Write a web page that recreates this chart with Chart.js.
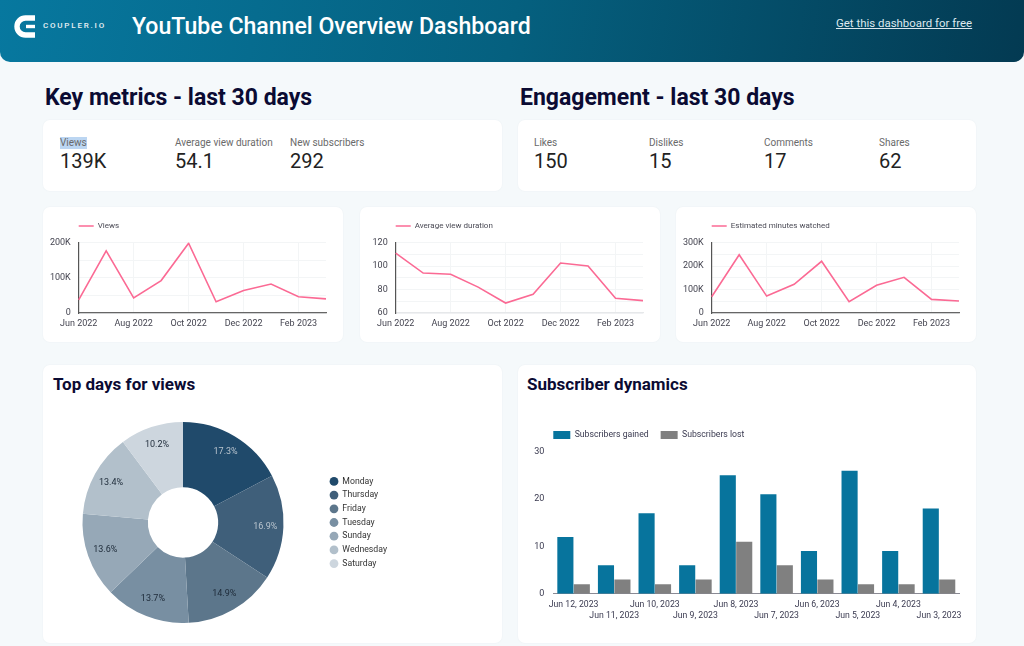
<!DOCTYPE html>
<html>
<head>
<meta charset="utf-8">
<script src="https://cdn.jsdelivr.net/npm/chart.js@4"></script>
<style>
  html, body { margin: 0; padding: 0; }
  body { width: 1024px; height: 646px; overflow: hidden; position: relative; background: #f5f9fb; font-family: Roboto, sans-serif; }
  .abs { position: absolute; white-space: nowrap; }
  #header { left: 0; top: 0; width: 1024px; height: 62px; border-radius: 0 0 10px 10px; background: linear-gradient(100deg, #07789f 0%, #05607f 50%, #033a52 100%); }
  .card { position: absolute; background: #fff; border-radius: 7px; box-shadow: 0 0 2px rgba(30, 50, 70, 0.05); }
  .heading { font-size: 23px; font-weight: 700; color: #0b0b33; line-height: 28px; }
  .sub { font-size: 17px; font-weight: 700; color: #0b0b33; line-height: 20px; }
  .mlabel { font-size: 10px; color: #6a6a6a; line-height: 12px; }
  .mvalue { font-size: 20px; color: #222; line-height: 24px; }
  canvas { position: absolute; }
</style>
</head>
<body>
<div class="abs" id="header"></div>
<svg class="abs" style="left:13px;top:13px" width="26" height="27" viewBox="0 0 26 27">
  <path d="M22 5 H12.5 A8.5 8.5 0 0 0 12.5 22 H22" fill="none" stroke="#fff" stroke-width="5.4"/>
  <rect x="13" y="11.8" width="9" height="3.4" fill="#fff"/>
</svg>
<div class="abs" style="left:43px;top:20px;font-size:8px;font-weight:500;letter-spacing:1.8px;color:#e8f0f4;line-height:12px">COUPLER.IO</div>
<div class="abs" style="left:132px;top:13px;font-size:23.1px;font-weight:500;color:#fff;line-height:28px">YouTube Channel Overview Dashboard</div>
<div class="abs" style="left:836px;top:16px;font-size:11.45px;color:#dde8ee;line-height:15px;text-decoration:underline">Get this dashboard for free</div>

<div class="abs heading" style="left:45px;top:84px">Key metrics - last 30 days</div>
<div class="abs heading" style="left:520px;top:84px">Engagement - last 30 days</div>

<div class="card" style="left:43px;top:120px;width:459px;height:71px"></div>
<div class="card" style="left:518px;top:120px;width:458px;height:71px"></div>

<div class="abs mlabel" style="left:60px;top:137px;background:#bcd6f2">Views</div>
<div class="abs mvalue" style="left:60px;top:149px">139K</div>
<div class="abs mlabel" style="left:175px;top:137px">Average view duration</div>
<div class="abs mvalue" style="left:175px;top:149px">54.1</div>
<div class="abs mlabel" style="left:290px;top:137px">New subscribers</div>
<div class="abs mvalue" style="left:290px;top:149px">292</div>

<div class="abs mlabel" style="left:534px;top:137px">Likes</div>
<div class="abs mvalue" style="left:534px;top:149px">150</div>
<div class="abs mlabel" style="left:649px;top:137px">Dislikes</div>
<div class="abs mvalue" style="left:649px;top:149px">15</div>
<div class="abs mlabel" style="left:764px;top:137px">Comments</div>
<div class="abs mvalue" style="left:764px;top:149px">17</div>
<div class="abs mlabel" style="left:879px;top:137px">Shares</div>
<div class="abs mvalue" style="left:879px;top:149px">62</div>

<div class="card" style="left:43px;top:207px;width:300px;height:135px"><canvas id="viewsChart"></canvas></div>
<div class="card" style="left:360px;top:207px;width:300px;height:135px"><canvas id="durationChart"></canvas></div>
<div class="card" style="left:676px;top:207px;width:300px;height:135px"><canvas id="minutesChart"></canvas></div>

<div class="card" style="left:43px;top:365px;width:459px;height:278px"></div>
<div class="card" style="left:518px;top:365px;width:458px;height:278px"></div>
<div class="abs sub" style="left:53px;top:374px">Top days for views</div>
<div class="abs sub" style="left:527px;top:374px">Subscriber dynamics</div>
<canvas id="daysChart" style="left:43px;top:421.5px"></canvas>
<canvas id="subsChart" style="left:518px;top:421px"></canvas>

<script>
const months = ['Jun 2022', 'Jul 2022', 'Aug 2022', 'Sep 2022', 'Oct 2022', 'Nov 2022', 'Dec 2022', 'Jan 2023', 'Feb 2023', 'Mar 2023'];
const viewsValues = [37000, 176000, 43000, 92000, 198000, 32000, 64000, 82000, 46000, 40000];
const durationValues = [111, 94, 93, 82, 68.5, 76, 102.5, 100, 72.5, 70.5];
const minutesValues = [69000, 248000, 72000, 122000, 220000, 48000, 118000, 152000, 58000, 51000];

const dayLabels = ['Monday', 'Thursday', 'Friday', 'Tuesday', 'Sunday', 'Wednesday', 'Saturday'];
const dayShares = [17.3, 16.9, 14.9, 13.7, 13.6, 13.4, 10.2];
const dayColors = ['#204a6b', '#3f5f7a', '#5c768b', '#788fa2', '#96a8b7', '#b2c0cb', '#cdd6de'];

const subDates = ['Jun 12, 2023', 'Jun 11, 2023', 'Jun 10, 2023', 'Jun 9, 2023', 'Jun 8, 2023', 'Jun 7, 2023', 'Jun 6, 2023', 'Jun 5, 2023', 'Jun 4, 2023', 'Jun 3, 2023'];
const subsGained = [12, 6, 17, 6, 25, 21, 9, 26, 9, 18];
const subsLost = [2, 3, 2, 3, 11, 6, 3, 2, 2, 3];

const PINK = '#fb6a94';
const TICK = '#444450';

function sizeCanvas(id, w, h) {
    let el = document.getElementById(id);
    el.style.width = w + 'px';
    el.style.height = h + 'px';
    el.width = w;
    el.height = h;
    return el;
}

// moves the legend start, the library has no option for it
function legendAt(x, up) {
    return {
        id: 'legendAt',
        afterLayout(chart) {
            chart.legend.left = x - chart.options.plugins.legend.labels.padding;
            chart.legend.top -= up;
        }
    };
}

function lineChart(id, title, values, yMin, yMax, step, labelStep, fmt, xBorder) {
    return new Chart(sizeCanvas(id, 300, 135), {
        type: 'line',
        data: {
            labels: months,
            datasets: [{ label: title, data: values, borderColor: PINK, backgroundColor: PINK, borderWidth: 1.6, pointRadius: 0, tension: 0 }]
        },
        options: {
            responsive: false,
            animation: false,
            layout: { padding: { top: 0, right: 17, bottom: 0, left: 0 } },
            plugins: {
                tooltip: { enabled: false },
                legend: {
                    align: 'start',
                    labels: { usePointStyle: true, pointStyle: 'line', pointStyleWidth: 15, boxHeight: 8, padding: 17.5, color: '#4a4a55', font: { family: 'Roboto', size: 8 } }
                }
            },
            scales: {
                x: {
                    afterFit: s => { s.height = 29; },
                    border: { color: xBorder, width: 1.2 },
                    grid: { color: '#f3f5f6', drawTicks: false },
                    ticks: {
                        color: TICK, padding: 5, autoSkip: false, maxRotation: 0,
                        font: { family: 'Roboto', size: 9 },
                        callback(v, i) { return i % 2 == 0 ? months[i] : null; }
                    }
                },
                y: {
                    min: yMin, max: yMax,
                    afterFit: s => { s.width = 35.7; },
                    border: { color: '#555', width: 1.2 },
                    grid: { color: '#f3f5f6', drawTicks: false },
                    ticks: {
                        color: TICK, padding: 8, autoSkip: false, stepSize: step,
                        font: { family: 'Roboto', size: 9 },
                        callback(v) { return v % labelStep == 0 ? fmt(v) : ''; }
                    }
                }
            }
        },
        plugins: [legendAt(35.7, 2.5)]
    });
}

const kFmt = v => v == 0 ? '0' : (v / 1000) + 'K';
lineChart('viewsChart', 'Views', viewsValues, 0, 200000, 50000, 100000, kFmt, '#666');
lineChart('durationChart', 'Average view duration', durationValues, 60, 120, 10, 20, v => '' + v, '#e6e8ea');
lineChart('minutesChart', 'Estimated minutes watched', minutesValues, 0, 300000, 50000, 100000, kFmt, '#666');

// percent labels sit near the outer edge of each slice
const sliceLabels = {
    id: 'sliceLabels',
    afterDatasetsDraw(chart) {
        let ctx = chart.ctx;
        ctx.save();
        ctx.font = '9px Roboto';
        ctx.textAlign = 'center';
        ctx.textBaseline = 'middle';
        chart.getDatasetMeta(0).data.forEach((arc, i) => {
            let mid = (arc.startAngle + arc.endAngle) / 2;
            let r = arc.outerRadius * 0.82;
            ctx.fillStyle = i < 2 ? '#b9c4ce' : '#1d2a38';
            ctx.fillText(dayShares[i].toFixed(1) + '%', arc.x + Math.cos(mid) * r, arc.y + Math.sin(mid) * r);
        });
        ctx.restore();
    }
};

new Chart(sizeCanvas('daysChart', 459, 201), {
    type: 'doughnut',
    data: {
        labels: dayLabels,
        datasets: [{ data: dayShares, backgroundColor: dayColors, borderWidth: 0 }]
    },
    options: {
        responsive: false,
        animation: false,
        cutout: '35%',
        layout: { padding: { right: 107 } },
        plugins: {
            tooltip: { enabled: false },
            legend: {
                position: 'right',
                labels: { usePointStyle: true, pointStyle: 'circle', boxWidth: 8, boxHeight: 6.2, padding: 5, color: '#333', font: { family: 'Roboto', size: 8.7 } }
            }
        }
    },
    plugins: [sliceLabels, legendAt(287, 0)]
});

new Chart(sizeCanvas('subsChart', 458, 223), {
    type: 'bar',
    data: {
        labels: subDates,
        datasets: [
            { label: 'Subscribers gained', data: subsGained, backgroundColor: '#07749d', categoryPercentage: 0.81, barPercentage: 0.98 },
            { label: 'Subscribers lost', data: subsLost, backgroundColor: '#808080', categoryPercentage: 0.81, barPercentage: 0.98 }
        ]
    },
    options: {
        responsive: false,
        animation: false,
        layout: { padding: { top: 0, right: 16.7, bottom: 0, left: 0 } },
        plugins: {
            tooltip: { enabled: false },
            legend: {
                align: 'start',
                labels: { boxWidth: 17, boxHeight: 8, padding: 12, color: '#3a3a50', font: { family: 'Roboto', size: 8.7 } }
            }
        },
        scales: {
            x: {
                afterFit: s => { s.height = 50.3; },
                border: { color: '#8a8a94', width: 1 },
                grid: { display: false, drawTicks: false },
                ticks: {
                    color: '#3a3a50', padding: 5, autoSkip: false, maxRotation: 0,
                    font: { family: 'Roboto', size: 8.7, lineHeight: 1.33 },
                    callback(v, i) { return i % 2 == 0 ? subDates[i] : ['', subDates[i]]; }
                }
            },
            y: {
                min: 0, max: 30,
                afterFit: s => { s.width = 35.3; },
                border: { display: false },
                grid: { display: false, drawTicks: false },
                ticks: { color: '#3a3a50', padding: 9, stepSize: 10, font: { family: 'Roboto', size: 9 } }
            }
        }
    },
    plugins: [legendAt(35.3, 2.3)]
});
</script>
</body>
</html>
